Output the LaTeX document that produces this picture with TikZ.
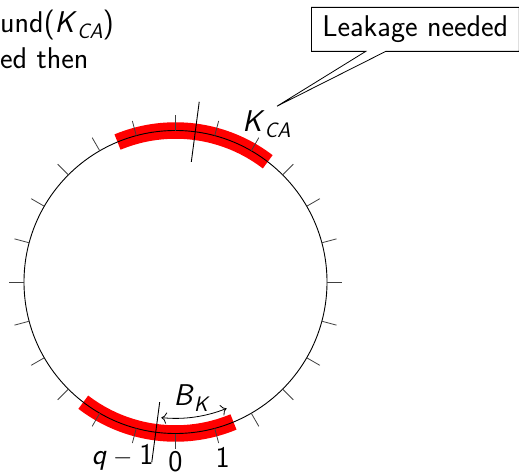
\documentclass[tikz,border=0pt]{standalone}
\usetikzlibrary{shapes.callouts,arrows.meta}
\newcommand{\subtxt}[1]{\raisebox{-6pt}{\fontsize{21}{25}\selectfont\itshape #1}}
\begin{document}
\begin{tikzpicture}[x=1pt,y=1pt,
  font=\sffamily\fontsize{30}{36}\selectfont,
  ring/.style={line width=0.9pt},
  tickmark/.style={line width=0.8pt, black!75},
  band/.style={red, line width=16.5pt},
  radial/.style={line width=0.9pt},
  lbl/.style={inner sep=0pt}]
\useasboundingbox (0,0) rectangle (519,475);
\def\R{151.5}
% top-left slide text fragments
\node[lbl, anchor=base west] (t1) at (0,442) {und(\textit{K}\subtxt{CA})};
\node[lbl, anchor=base west] (t2) at (0,406) {ed then};
\begin{scope}[shift={(175.5,193)}]
  \coordinate (C) at (0,0);
  \draw[band] (52.5:\R) arc[start angle=52.5, end angle=112.5, radius=\R];
  \draw[band] (232.5:\R) arc[start angle=232.5, end angle=292.5, radius=\R];
  \draw[ring] (C) circle[radius=\R];
  \foreach \a in {0,15,...,345}
    \draw[tickmark] (\a:\R) -- (\a:{1.1*\R});
  \draw[radial] (82.5:{0.8*\R}) -- (82.5:{1.2*\R});
  \draw[radial] (262.5:{0.8*\R}) -- (262.5:{1.2*\R});
  \draw[line width=0.8pt, {To[scale=1.6]}-{To[scale=1.6]}] (264:{0.9*\R}) arc[start angle=264, end angle=292, radius={0.9*\R}];
  \node[lbl] (bk) at (277.5:{0.77*\R}) {\textit{B}\subtxt{K}};
  \node[lbl] (kca) at (60:{1.2*\R}) {\textit{K}\subtxt{CA}};
  \node[lbl] (l0) at ([yshift=2pt]270:{1.2*\R}) {0};
  \node[lbl] (l1) at (285:{1.2*\R}) {1};
  \node[lbl] (lq) at ([xshift=-6pt]255:{1.2*\R}) {\textit{q}\:$-$\:1};
  \coordinate (tip) at (60:{1.34*\R});
\end{scope}
\node[rectangle callout, draw, fill=white, line width=0.8pt,
  callout absolute pointer={(tip)}, callout pointer width=20pt,
  anchor=north west, inner xsep=11pt, minimum height=44pt] (leak) at (311,468) {Leakage needed\hspace{10pt}};
\end{tikzpicture}
\end{document}
